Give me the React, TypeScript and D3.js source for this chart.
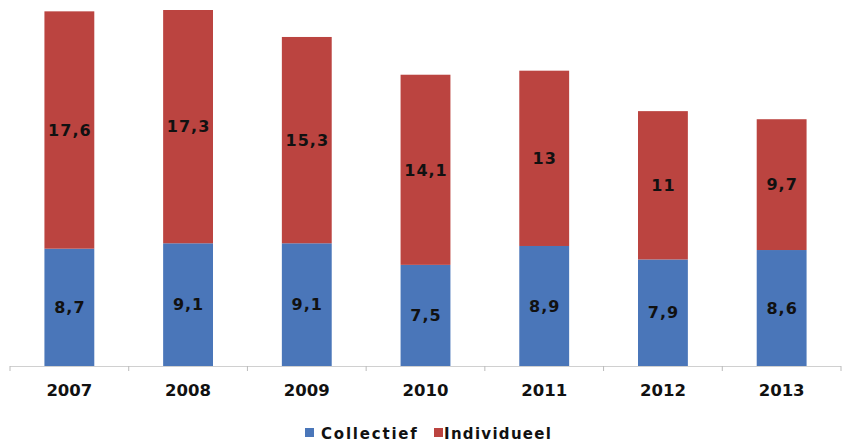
import React from "react";
import * as d3 from "d3";

// chart data
const years = ["2007", "2008", "2009", "2010", "2011", "2012", "2013"];
const collectief = [8.7, 9.1, 9.1, 7.5, 8.9, 7.9, 8.6];
const individueel = [17.6, 17.3, 15.3, 14.1, 13, 11, 9.7];
const seriesNames = ["Collectief", "Individueel"];
const seriesColors = ["#4a76b9", "#bb4440"];

const W = 843;
const H = 443;
const FONT = "'DejaVu Sans', Verdana, sans-serif";

const fmt = (v: number) => String(v).replace(".", ",");

const App = () => {
  const x = d3.scaleBand().domain(years).range([10, 841]).padding(0);
  const y = d3.scaleLinear().domain([0, 26.4]).range([366, 10]);
  const barW = x.bandwidth() * 0.42;

  const stacked = years.map((yr, i) => {
    const c = collectief[i];
    const ind = individueel[i];
    return [
      { key: "c", y0: 0, y1: c, v: c, color: seriesColors[0] },
      { key: "i", y0: c, y1: c + ind, v: ind, color: seriesColors[1] },
    ].map((s) => ({ ...s, yr }));
  });

  const tickXs = d3.range(years.length + 1).map((k) => 10 + k * x.step());

  return (
    <svg width={W} height={H} style={{ position: "absolute", left: 0, top: 0, background: "#fff" }}>
      {/* bars */}
      {stacked.map((segs) =>
        segs.map((s) => {
          const cx = (x(s.yr) as number) + x.bandwidth() / 2;
          return (
            <g key={s.yr + s.key}>
              <rect
                x={cx - barW / 2}
                y={y(s.y1)}
                width={barW}
                height={y(s.y0) - y(s.y1)}
                fill={s.color}
              />
              <text
                x={cx + 0.5}
                y={(y(s.y0) + y(s.y1)) / 2}
                dy="0.36em"
                textAnchor="middle"
                fontFamily={FONT}
                fontWeight="bold"
                fontSize={16}
                letterSpacing={1}
                fill="#111"
              >
                {fmt(s.v)}
              </text>
            </g>
          );
        })
      )}

      {/* x axis */}
      <line x1={10} x2={841} y1={366.5} y2={366.5} stroke="#d0d0d0" strokeWidth={1} />
      {tickXs.map((tx, k) => (
        <line key={k} x1={tx} x2={tx} y1={366} y2={371} stroke="#bbbbbb" strokeWidth={1} />
      ))}
      {years.map((yr) => (
        <text
          key={yr}
          x={(x(yr) as number) + x.bandwidth() / 2}
          y={396}
          textAnchor="middle"
          fontFamily={FONT}
          fontWeight="bold"
          fontSize={16.5}
          fill="#111"
        >
          {yr}
        </text>
      ))}

      {/* legend */}
      <g>
        <rect x={305} y={428} width={9} height={9} fill={seriesColors[0]} />
        <text x={321} y={438.5} fontFamily={FONT} fontWeight="bold" fontSize={15} letterSpacing={1.8} fill="#111">
          {seriesNames[0]}
        </text>
        <rect x={434} y={428} width={9} height={9} fill={seriesColors[1]} />
        <text x={444} y={438.5} fontFamily={FONT} fontWeight="bold" fontSize={15} letterSpacing={1.3} fill="#111">
          {seriesNames[1]}
        </text>
      </g>
    </svg>
  );
};

export default App;
